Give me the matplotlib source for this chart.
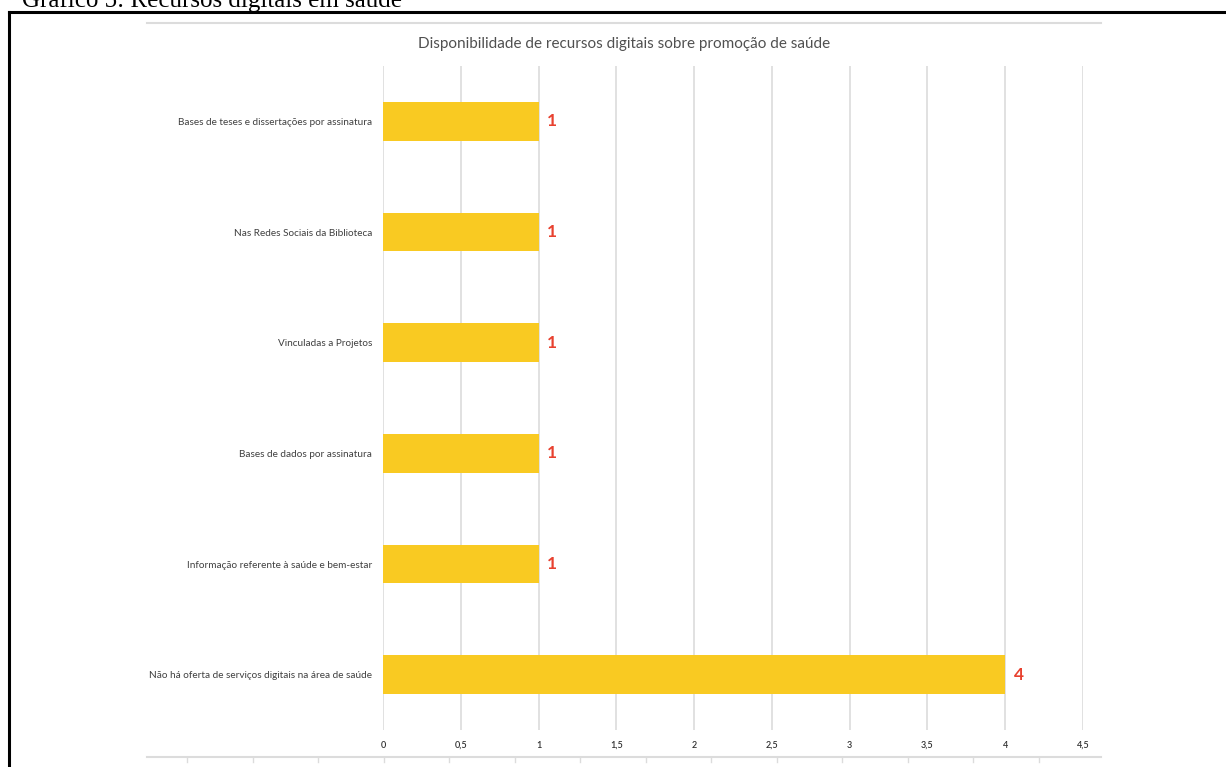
import matplotlib
matplotlib.use("Agg")
import matplotlib.pyplot as plt
from matplotlib.lines import Line2D

# data
categories = [
    "Bases de teses e dissertações por assinatura",
    "Nas Redes Sociais da Biblioteca",
    "Vinculadas a Projetos",
    "Bases de dados por assinatura",
    "Informação referente à saúde e bem-estar",
    "Não há oferta de serviços digitais na área de saúde",
]
values = [1, 1, 1, 1, 1, 4]
xticks = [0, 0.5, 1, 1.5, 2, 2.5, 3, 3.5, 4, 4.5]
xtick_labels = ["0", "0,5", "1", "1,5", "2", "2,5", "3", "3,5", "4", "4,5"]
title = "Disponibilidade de recursos digitais sobre promoção de saúde"
caption = "Gráfico 5: Recursos digitais em saúde"

W, H = 1226, 767
fig = plt.figure(figsize=(W / 100, H / 100), dpi=100)
fig.patch.set_facecolor("white")

sans = ["Lato", "DejaVu Sans"]
grid_col = "#dcdcdc"
bar_col = "#f9ca22"
lab_col = "#e8412f"
txt_col = "#404040"


def fx(px):
    return px / W


def fy(py):
    return 1 - py / H


# document caption (cut off at the top, as in the page scan) and black frame
fig.text(fx(22), fy(7), caption, family=["Liberation Serif"], fontsize=18,
         va="baseline", ha="left", color="black")
fig.add_artist(Line2D([fx(9), fx(9)], [fy(12), 0], color="black", lw=2.2))
fig.add_artist(Line2D([fx(9), 1], [fy(12), fy(12)], color="black", lw=2.2))

# chart frame lines top and bottom
fig.add_artist(Line2D([fx(147), fx(1101)], [fy(23), fy(23)], color=grid_col, lw=1.5))
fig.add_artist(Line2D([fx(147), fx(1101)], [fy(757), fy(757)], color=grid_col, lw=1.5))
for i in range(14):
    x = 187 + i * 65.5
    fig.add_artist(Line2D([fx(x), fx(x)], [fy(757), fy(762)], color=grid_col, lw=1))

ax = fig.add_axes([fx(383), fy(730), fx(1083) - fx(383), (730 - 66) / H])
ax.set_facecolor("none")
ypos = list(range(len(categories)))
ax.barh(ypos, values, height=0.35, color=bar_col, zorder=2)
for y, v in zip(ypos, values):
    ax.text(v + 0.055, y, str(v), color=lab_col, fontsize=12.5, family=sans,
            fontweight="bold", va="center", ha="left", zorder=3)

ax.set_xlim(0, 4.5)
ax.set_ylim(len(categories) - 0.5, -0.5)
ax.set_xticks(xticks)
ax.set_xticklabels(xtick_labels, family=sans, fontsize=6.5, color="#303030",
                   fontweight="semibold")
ax.set_yticks(ypos)
ax.set_yticklabels(categories, family=sans, fontsize=7.2, color=txt_col)
ax.tick_params(axis="both", length=0)
ax.tick_params(axis="x", pad=8)
ax.tick_params(axis="y", pad=8)
ax.grid(axis="x", color=grid_col, lw=1.2, zorder=0)
ax.set_axisbelow(True)
for s in ax.spines.values():
    s.set_visible(False)

fig.text(fx(624), fy(44), title, family=sans, fontsize=11, color="#505050",
         ha="center", va="center")

fig.savefig("out.png", dpi=100)
